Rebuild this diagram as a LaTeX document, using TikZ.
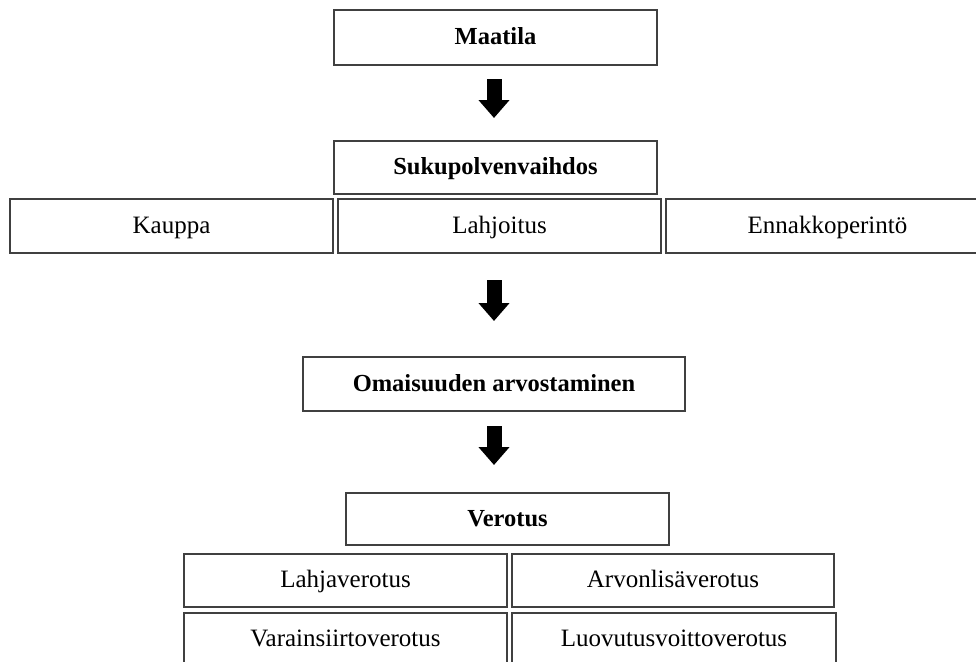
\documentclass[tikz,border=0pt]{standalone}
\usepackage{fontspec}
\setmainfont{Liberation Serif}
\usetikzlibrary{arrows.meta}

\begin{document}
\begin{tikzpicture}[x=1pt, y=-1pt,
        box/.style={draw=black!75, line width=1.5pt, rectangle, inner sep=0pt,
            minimum width=323pt, minimum height=53pt, text height=20pt, text depth=6pt,
            font=\fontsize{25}{30}\selectfont},
        title/.style={box, font=\fontsize{24.5}{30}\selectfont\bfseries},
        bigarrow/.style={line width=15pt, -{Triangle[length=18pt, width=30pt]}}]
        \useasboundingbox (0,0) rectangle (976,661);
        \clip (0,0) rectangle (976,661);

        % Boxes
        \node[title, minimum height=55pt] (maatila) at (495.5,37.5) {Maatila};
        \node[title] (sukupolvi) at (495.5,167.5) {Sukupolvenvaihdos};
        \node[box, minimum height=54pt] (kauppa) at (171.5,226) {Kauppa};
        \node[box, minimum height=54pt] (lahjoitus) at (499.5,226) {Lahjoitus};
        \node[box, minimum height=54pt] (ennakko) at (827.5,226) {Ennakkoperintö};
        \node[title, minimum width=382pt, minimum height=54pt] (arvostus) at (494,384) {Omaisuuden arvostaminen};
        \node[title, minimum height=52pt] (verotus) at (507.5,519) {Verotus};
        \node[box] (lahjavero) at (345.5,580.5) {Lahjaverotus};
        \node[box, minimum width=322pt] (alv) at (673,580.5) {Arvonlisäverotus};
        \node[box] (varainsiirto) at (345.5,639.5) {Varainsiirtoverotus};
        \node[box, minimum width=324pt] (luovutus) at (674,639.5) {Luovutusvoittoverotus};

        % Arrows
        \coordinate (a1) at (494,79);
        \coordinate (b1) at (494,118);
        \coordinate (a2) at (494,280);
        \coordinate (b2) at (494,321);
        \coordinate (a3) at (494,426);
        \coordinate (b3) at (494,465);
        \draw[bigarrow] (a1) -- (b1);
        \draw[bigarrow] (a2) -- (b2);
        \draw[bigarrow] (a3) -- (b3);
    \end{tikzpicture}
\end{document}
